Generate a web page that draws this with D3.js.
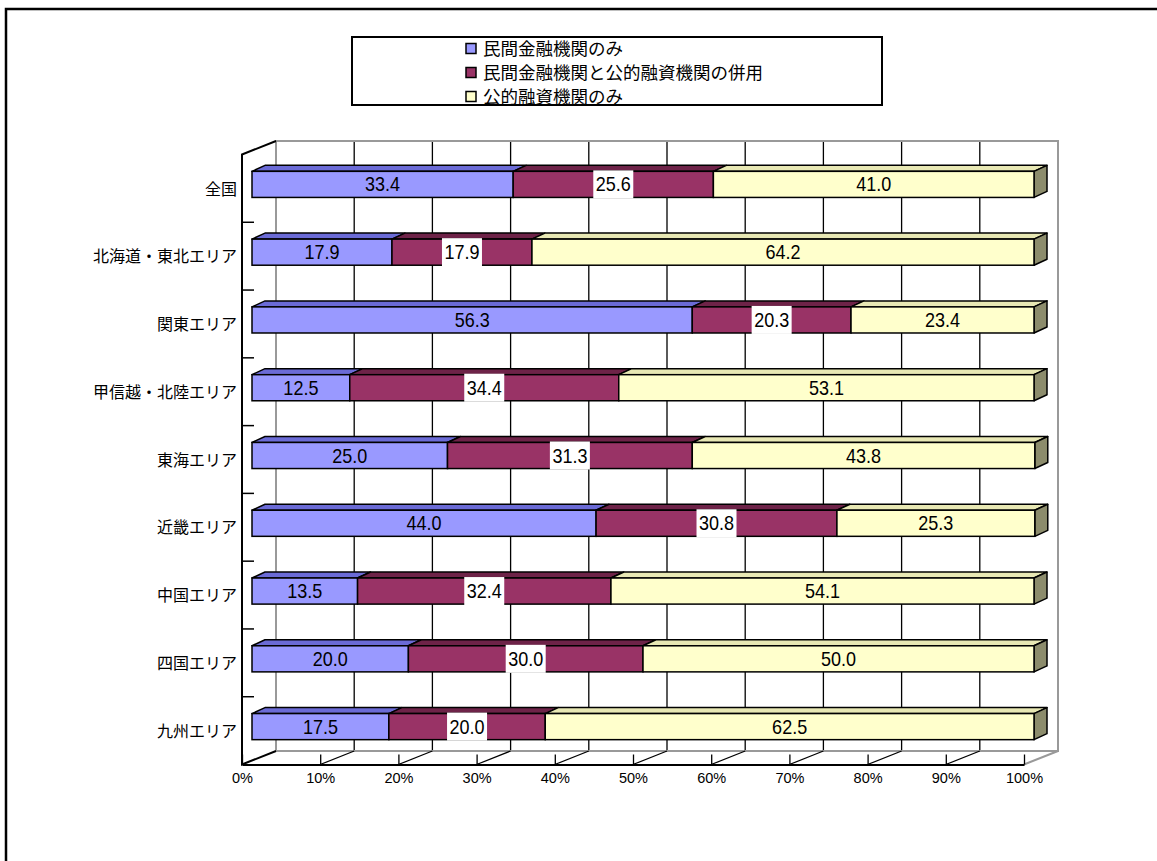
<!DOCTYPE html>
<meta charset="utf-8">
<script src="https://d3js.org/d3.v7.min.js"></script>
<style>
body { margin: 0; background: white; }
svg { display: block; }
.cat text { font-family: "Noto Sans CJK JP", sans-serif; font-size: 16px; fill: #000; }
.pct text { font-family: "Liberation Sans", Arial, sans-serif; font-size: 14.5px; fill: #000; }
.legend text { font-family: "Noto Sans CJK JP", sans-serif; font-size: 17.5px; }
.val { font-family: "Liberation Sans", Arial, sans-serif; font-size: 20px; }
</style>
<body>
<svg id="svg" width="1157" height="861"></svg>
<script>
var categories = ["全国", "北海道・東北エリア", "関東エリア", "甲信越・北陸エリア", "東海エリア", "近畿エリア", "中国エリア", "四国エリア", "九州エリア"];
var series = ["民間金融機関のみ", "民間金融機関と公的融資機関の併用", "公的融資機関のみ"];
var privateOnly = [33.4, 17.9, 56.3, 12.5, 25.0, 44.0, 13.5, 20.0, 17.5];
var both        = [25.6, 17.9, 20.3, 34.4, 31.3, 30.8, 32.4, 30.0, 20.0];
var publicOnly  = [41.0, 64.2, 23.4, 53.1, 43.8, 25.3, 54.1, 50.0, 62.5];
var xTicks = [0, 10, 20, 30, 40, 50, 60, 70, 80, 90, 100];

var values = [privateOnly, both, publicOnly];
var front = ["#9999ff", "#993366", "#ffffcc"];
var top_ = ["#6b6bd6", "#6e2348", "#e8e8b4"];
var side = ["#5c5cb0", "#5a1c3a", "#8c8c6c"];

var svg = d3.select("#svg");

// outer frame (cut off at right / bottom)
svg.append("path")
    .attr("d", "M6,870 L6,9 L1170,9")
    .attr("fill", "none").attr("stroke", "#000").attr("stroke-width", 2.5);

var x = d3.scaleLinear().domain([0, 100]).range([242, 1024]);
var y = d3.scaleBand().domain(categories).range([154.5, 764.5]);
var dx = 34, dy = -13.5;           // depth of the plot box
var bf = [10, -4], bb = [23, -10]; // bar front / back offsets
var barH = y.bandwidth() * 0.385;

var yTop = y.range()[0], yBot = y.range()[1];
var g = svg.append("g");

// back wall grid lines
g.selectAll(".grid").data(xTicks.slice(1, -1)).enter().append("line")
    .attr("x1", function(d) { return x(d) + dx; }).attr("x2", function(d) { return x(d) + dx; })
    .attr("y1", yTop + dy).attr("y2", yBot + dy)
    .attr("stroke", "#000").attr("stroke-width", 1.3);

// wall / floor borders (grey)
var grey = "#999";
g.append("path")
    .attr("d", "M" + (x(0) + dx) + "," + (yBot + dy) + " L" + (x(0) + dx) + "," + (yTop + dy) +
        " L" + (x(100) + dx) + "," + (yTop + dy) + " L" + (x(100) + dx) + "," + (yBot + dy) +
        " L" + (x(0) + dx) + "," + (yBot + dy) + " M" + (x(100) + dx) + "," + (yBot + dy) +
        " L" + x(100) + "," + yBot)
    .attr("fill", "none").attr("stroke", grey).attr("stroke-width", 2);

// floor diagonals
g.selectAll(".diag").data(xTicks.slice(1, -1)).enter().append("line")
    .attr("x1", function(d) { return x(d); }).attr("x2", function(d) { return x(d) + dx; })
    .attr("y1", yBot).attr("y2", yBot + dy)
    .attr("stroke", "#000").attr("stroke-width", 1.3);

// left wall edge
g.append("path")
    .attr("d", "M" + (x(0) + dx) + "," + (yTop + dy) + " L" + x(0) + "," + yTop + " L" + x(0) + "," + yBot +
        " L" + (x(0) + dx) + "," + (yBot + dy))
    .attr("fill", "none").attr("stroke", "#000").attr("stroke-width", 2);

// bottom axis
var xAxis = g.append("g").attr("class", "pct")
    .attr("transform", "translate(0," + yBot + ")")
    .call(d3.axisBottom(x).tickValues(xTicks).tickFormat(function(d) { return d + "%"; })
        .tickSizeInner(-10).tickSizeOuter(0).tickPadding(8));
xAxis.select(".domain").attr("stroke", "#000").attr("stroke-width", 2);
xAxis.selectAll(".tick line").attr("stroke", "#000").attr("stroke-width", 1.3);
xAxis.selectAll("text").attr("font-family", null).attr("font-size", null);

// left axis labels
var yAxis = g.append("g").attr("class", "cat")
    .attr("transform", "translate(" + x(0) + ",1)")
    .call(d3.axisLeft(y).tickSize(0).tickPadding(5));
yAxis.select(".domain").remove();
yAxis.selectAll("text").attr("font-family", null).attr("font-size", null);

// category boundary ticks
g.selectAll(".ytick").data(d3.range(1, categories.length)).enter().append("line")
    .attr("x1", x(0)).attr("x2", x(0) + 12)
    .attr("y1", function(i) { return yTop + i * y.step(); })
    .attr("y2", function(i) { return yTop + i * y.step(); })
    .attr("stroke", "#000").attr("stroke-width", 1.5);

// bars
var bars = g.append("g");
categories.forEach(function(c, ci) {
    var cum = 0;
    var yF = y(c) + y.bandwidth() / 2 - barH / 2 + bf[1];
    var ddx = bb[0] - bf[0], ddy = bb[1] - bf[1];
    values.forEach(function(arr, si) {
        var v = arr[ci];
        var x0 = x(cum) + bf[0], x1 = x(cum + v) + bf[0];
        cum += v;
        bars.append("polygon")
            .attr("points", [[x0, yF], [x1, yF], [x1 + ddx, yF + ddy], [x0 + ddx, yF + ddy]].join(" "))
            .attr("fill", top_[si]).attr("stroke", "#000").attr("stroke-width", 1.5).attr("stroke-linejoin", "round");
        if (si === values.length - 1) {
            bars.append("polygon")
                .attr("points", [[x1, yF], [x1 + ddx, yF + ddy], [x1 + ddx, yF + ddy + barH], [x1, yF + barH]].join(" "))
                .attr("fill", side[si]).attr("stroke", "#000").attr("stroke-width", 1.5).attr("stroke-linejoin", "round");
        }
        bars.append("rect")
            .attr("x", x0).attr("y", yF).attr("width", x1 - x0).attr("height", barH)
            .attr("fill", front[si]).attr("stroke", "#000").attr("stroke-width", 1.5);
        var cx = (x0 + x1) / 2, cy = yF + barH / 2;
        if (si === 1) {
            bars.append("rect")
                .attr("x", cx - 20).attr("y", cy - 14).attr("width", 40).attr("height", 28)
                .attr("fill", "#fff");
        }
        bars.append("text").attr("class", "val")
            .attr("transform", "translate(" + cx + "," + (cy + 7) + ") scale(0.9,1)")
            .attr("text-anchor", "middle")
            .text(v.toFixed(1));
    });
});

// legend
var leg = svg.append("g").attr("class", "legend");
leg.append("rect")
    .attr("x", 352).attr("y", 37).attr("width", 530).attr("height", 68)
    .attr("fill", "#fff").attr("stroke", "#000").attr("stroke-width", 2);
var item = leg.selectAll(".item").data(series).enter().append("g")
    .attr("transform", function(d, i) { return "translate(466," + (48.5 + i * 24) + ")"; });
item.append("rect")
    .attr("x", 0).attr("y", -5).attr("width", 10).attr("height", 10)
    .attr("fill", function(d, i) { return front[i]; })
    .attr("stroke", "#000").attr("stroke-width", 1.5);
item.append("text")
    .attr("x", 17).attr("y", 0).attr("dy", "0.36em")
    .text(function(d) { return d; });
</script>
</body>
